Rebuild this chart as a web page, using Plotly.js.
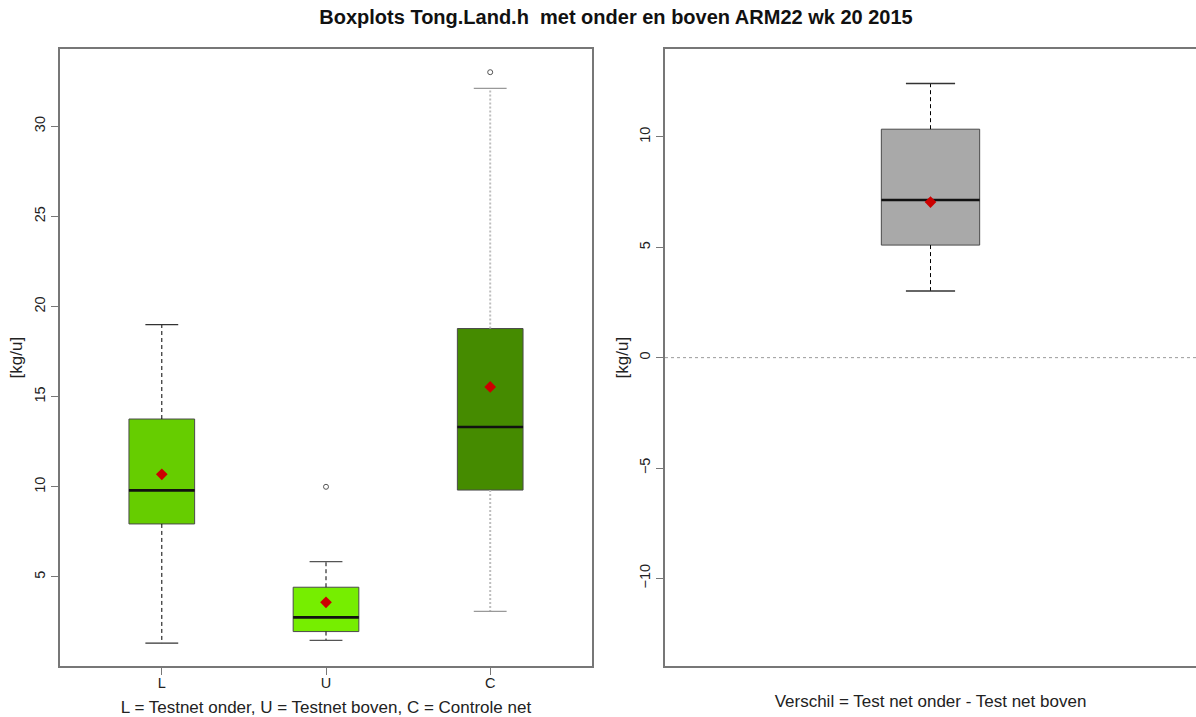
<!DOCTYPE html>
<html>
<head>
<meta charset="utf-8">
<script src="https://cdn.plot.ly/plotly-3.0.1.min.js"></script>
<style>html,body{margin:0;padding:0;background:#fff}#chart{width:1196px;height:717px}</style>
</head>
<body>
<div id="chart"></div>
<script>
// ---- data ----
const categories = ['L', 'U', 'C'];
const q1Vals     = [7.94, 1.97, 9.82];
const medianVals = [9.80, 2.76, 13.32];
const q3Vals     = [13.76, 4.43, 18.78];
const lowWhisker = [1.33, 1.48, 3.09];
const upWhisker  = [19.0, 5.85, 32.1];
const meanVals   = [10.69, 3.59, 15.54];
const outlierVals = [[], [10.0], [33.0]];

const diffLabel   = ['Verschil'];
const diffQ1      = [5.10];
const diffMedian  = [7.14];
const diffQ3      = [10.35];
const diffLow     = [3.02];
const diffUp      = [12.42];
const diffMean    = [7.05];
const diffOutliers = [[]];

const leftTicks  = [5, 10, 15, 20, 25, 30];
const rightTicks = [-10, -5, 0, 5, 10];

// ---- styles ----
const boxColors   = ['#66CD00', '#76EE00', '#458B00'];
const whiskColors = ['#000000', '#000000', '#BEBEBE'];
const whiskDash   = ['4px,3px', '4px,3px', '2px,2px'];
const whiskWidth  = [1, 1, 2];
const capColors   = ['#333333', '#555555', '#999999'];
const FONT = 'Liberation Sans, Arial, Helvetica, sans-serif';

const traces = [];
function addBox(pos, q1, med, q3, lo, up, mean, outs, color, wcol, wdash, wwid, ccol, boxW, capW, xa, ya) {
  // whiskers
  traces.push({type: 'scatter', mode: 'lines', x: [pos, pos, null, pos, pos], y: [q3, up, null, q1, lo],
    line: {color: wcol, width: wwid, dash: wdash}, xaxis: xa, yaxis: ya, hoverinfo: 'skip', showlegend: false});
  // caps
  traces.push({type: 'scatter', mode: 'lines', x: [pos - capW / 2, pos + capW / 2, null, pos - capW / 2, pos + capW / 2],
    y: [up, up, null, lo, lo], line: {color: ccol, width: 1.3}, xaxis: xa, yaxis: ya, hoverinfo: 'skip', showlegend: false});
  // box
  traces.push({type: 'box', x: [pos], q1: [q1], median: [med], q3: [q3], lowerfence: [q1], upperfence: [q3],
    width: boxW, whiskerwidth: 0, fillcolor: color, line: {color: '#4a4a4a', width: 1},
    xaxis: xa, yaxis: ya, showlegend: false, boxpoints: false});
  // median
  traces.push({type: 'scatter', mode: 'lines', x: [pos - boxW / 2, pos + boxW / 2], y: [med, med],
    line: {color: '#111111', width: 2.6}, xaxis: xa, yaxis: ya, hoverinfo: 'skip', showlegend: false});
  // mean
  traces.push({type: 'scatter', mode: 'markers', x: [pos], y: [mean],
    marker: {symbol: 'diamond', size: 9, color: '#CC0000'}, xaxis: xa, yaxis: ya, showlegend: false});
  // outliers
  if (outs.length) {
    traces.push({type: 'scatter', mode: 'markers', x: outs.map(() => pos), y: outs,
      marker: {symbol: 'circle-open', size: 5, color: '#555555', line: {width: 1}}, xaxis: xa, yaxis: ya, showlegend: false});
  }
}

categories.forEach((c, i) => {
  addBox(i + 1, q1Vals[i], medianVals[i], q3Vals[i], lowWhisker[i], upWhisker[i], meanVals[i], outlierVals[i],
    boxColors[i], whiskColors[i], whiskDash[i], whiskWidth[i], capColors[i], 0.4, 0.2, 'x', 'y');
});
diffLabel.forEach((c, i) => {
  addBox(i + 1, diffQ1[i], diffMedian[i], diffQ3[i], diffLow[i], diffUp[i], diffMean[i], diffOutliers[i],
    '#A9A9A9', '#000000', '4px,3px', 1, '#333333', 0.2, 0.1, 'x2', 'y2');
});

const axisCommon = {
  showline: true, mirror: true, linecolor: '#777777', linewidth: 2, showgrid: false, zeroline: false,
  ticks: 'outside', ticklen: 7, tickcolor: '#777777', tickwidth: 1,
  tickfont: {family: FONT, size: 14.5, color: '#222222'}, automargin: false, fixedrange: true
};

const layout = {
  width: 1196, height: 717,
  paper_bgcolor: '#ffffff', plot_bgcolor: '#ffffff',
  margin: {l: 0, r: 0, t: 0, b: 0},
  showlegend: false,
  font: {family: FONT, color: '#222222'},
  title: {text: '<b>Boxplots Tong.Land.h  met onder en boven ARM22 wk 20 2015</b>',
    font: {family: FONT, size: 20, color: '#111111'}, x: 616 / 1196, xanchor: 'center',
    y: 1 - 17 / 717, yanchor: 'middle', yref: 'container', xref: 'paper'},
  xaxis: Object.assign({}, axisCommon, {
    domain: [60 / 1196, 592 / 1196], range: [0.38, 3.62],
    tickmode: 'array', tickvals: [1, 2, 3], ticktext: categories, ticklabelstandoff: -4,
    title: {text: 'L = Testnet onder, U = Testnet boven, C = Controle net', font: {family: FONT, size: 17, color: '#222222'}, standoff: 12}
  }),
  yaxis: Object.assign({}, axisCommon, {
    domain: [1 - 666 / 717, 1 - 49.3 / 717], range: [0.06, 34.27],
    tickmode: 'array', tickvals: leftTicks, tickangle: -90,
    title: {text: '[kg/u]', font: {family: FONT, size: 17, color: '#222222'}, standoff: 5}
  }),
  xaxis2: Object.assign({}, axisCommon, {
    domain: [665 / 1196, 1], range: [0.46, 1.54], anchor: 'y2',
    showticklabels: false, ticks: '',
    title: {text: 'Verschil = Test net onder - Test net boven', font: {family: FONT, size: 17, color: '#222222'}, standoff: 28}
  }),
  yaxis2: Object.assign({}, axisCommon, {
    domain: [1 - 666 / 717, 1 - 49.3 / 717], range: [-13.97, 13.97], anchor: 'x2',
    tickmode: 'array', tickvals: rightTicks, tickangle: -90,
    title: {text: '[kg/u]', font: {family: FONT, size: 17, color: '#222222'}, standoff: 4}
  }),
  shapes: [{type: 'line', xref: 'x2 domain', yref: 'y2', x0: 0, x1: 1, y0: 0, y1: 0,
    line: {color: '#9a9a9a', width: 1, dash: 'dot'}, layer: 'below'}]
};

Plotly.newPlot('chart', traces, layout, {displayModeBar: false, staticPlot: true});
</script>
</body>
</html>
